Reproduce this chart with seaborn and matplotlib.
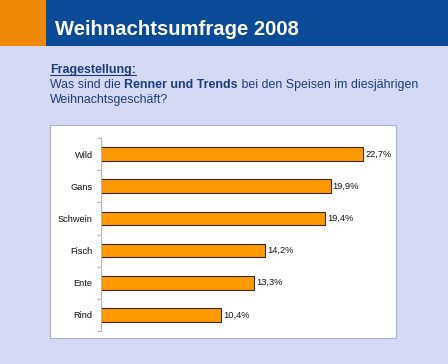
import matplotlib
matplotlib.use("Agg")
import matplotlib.pyplot as plt
import seaborn as sns
import pandas as pd
from matplotlib.patches import Rectangle
from matplotlib.ticker import FixedLocator

categories = ["Wild", "Gans", "Schwein", "Fisch", "Ente", "Rind"]
values = [22.7, 19.9, 19.4, 14.2, 13.3, 10.4]
value_labels = [f"{v:.1f}".replace(".", ",") + "%" for v in values]

title = "Weihnachtsumfrage 2008"
question_head = "Fragestellung:"

sns.set_theme(style="white")
plt.rcParams["font.family"] = ["Liberation Sans", "DejaVu Sans"]

W, H = 448, 364
fig = plt.figure(figsize=(W / 100, H / 100), dpi=100)
fig.patch.set_facecolor("#d5d9f3")

def fx(px):
    return px / W

def fy(py):
    return 1 - py / H

# header
fig.add_artist(Rectangle((0, fy(46)), fx(46), 46 / H, transform=fig.transFigure,
                         facecolor="#f0880a", edgecolor="none", zorder=-10))
fig.add_artist(Rectangle((fx(46), fy(46)), 1 - fx(46), 46 / H, transform=fig.transFigure,
                         facecolor="#0b4a96", edgecolor="none", zorder=-10))
fig.text(fx(55), fy(35), title, color="white", fontsize=14.6, fontweight="bold",
         va="baseline", ha="left")

# question text
txtcol = "#1c3c80"
fs = 8.9
th = fig.text(fx(50), fy(72.5), question_head, color=txtcol, fontsize=fs, fontweight="bold",
              va="baseline", ha="left")
fig.canvas.draw()
r = fig.canvas.get_renderer()
bbh = th.get_window_extent(r)
fig.add_artist(plt.Line2D([fx(50), bbh.x1 / W], [fy(74.5), fy(74.5)], transform=fig.transFigure,
                          color=txtcol, lw=0.8))
t1 = fig.text(fx(50), fy(88), "Was sind die ", color=txtcol, fontsize=fs,
              va="baseline", ha="left")
bb = t1.get_window_extent(r)
t2 = fig.text(bb.x1 / W, fy(88), "Renner und Trends", color=txtcol, fontsize=fs,
              fontweight="bold", va="baseline", ha="left")
bb2 = t2.get_window_extent(r)
fig.text(bb2.x1 / W, fy(88), " bei den Speisen im diesjährigen", color=txtcol,
         fontsize=fs, va="baseline", ha="left")
fig.text(fx(50), fy(103.5), "Weihnachtsgeschäft?", color=txtcol, fontsize=fs,
         va="baseline", ha="left")

# white chart box
fig.add_artist(Rectangle((fx(50), fy(338)), (396 - 50) / W, (338 - 125) / H,
                         transform=fig.transFigure, facecolor="white",
                         edgecolor="#aab0cc", lw=0.8, zorder=-5))

# chart
ax = fig.add_axes([fx(101), fy(331), (389.5 - 101) / W, (331 - 138) / H])
ax.set_facecolor("none")
ax.patch.set_alpha(0)
df = pd.DataFrame({"cat": categories, "val": values})
sns.barplot(data=df, x="val", y="cat", orient="h", color="#ff9900", saturation=1,
            edgecolor="#3d2800", linewidth=0.8, width=0.43, ax=ax)
ax.set_xlim(0, 25)
ax.set_ylim(5.5, -0.5)
for c in ax.containers:
    ax.bar_label(c, labels=value_labels, padding=1.5, fontsize=6.7, color="#111111")

for s in ["top", "right", "bottom"]:
    ax.spines[s].set_visible(False)
ax.spines["left"].set_color("#b8b8b8")
ax.spines["left"].set_linewidth(0.8)
ax.set_xticks([])
ax.set_xlabel("")
ax.set_ylabel("")
ax.yaxis.set_minor_locator(FixedLocator([i - 0.5 for i in range(len(categories) + 1)]))
ax.tick_params(axis="y", which="major", length=0, pad=6, labelsize=6.7, labelcolor="#111111")
ax.tick_params(axis="y", which="minor", length=3, width=0.8, color="#b8b8b8", left=True)

fig.savefig("out.png", dpi=100, facecolor=fig.get_facecolor())
